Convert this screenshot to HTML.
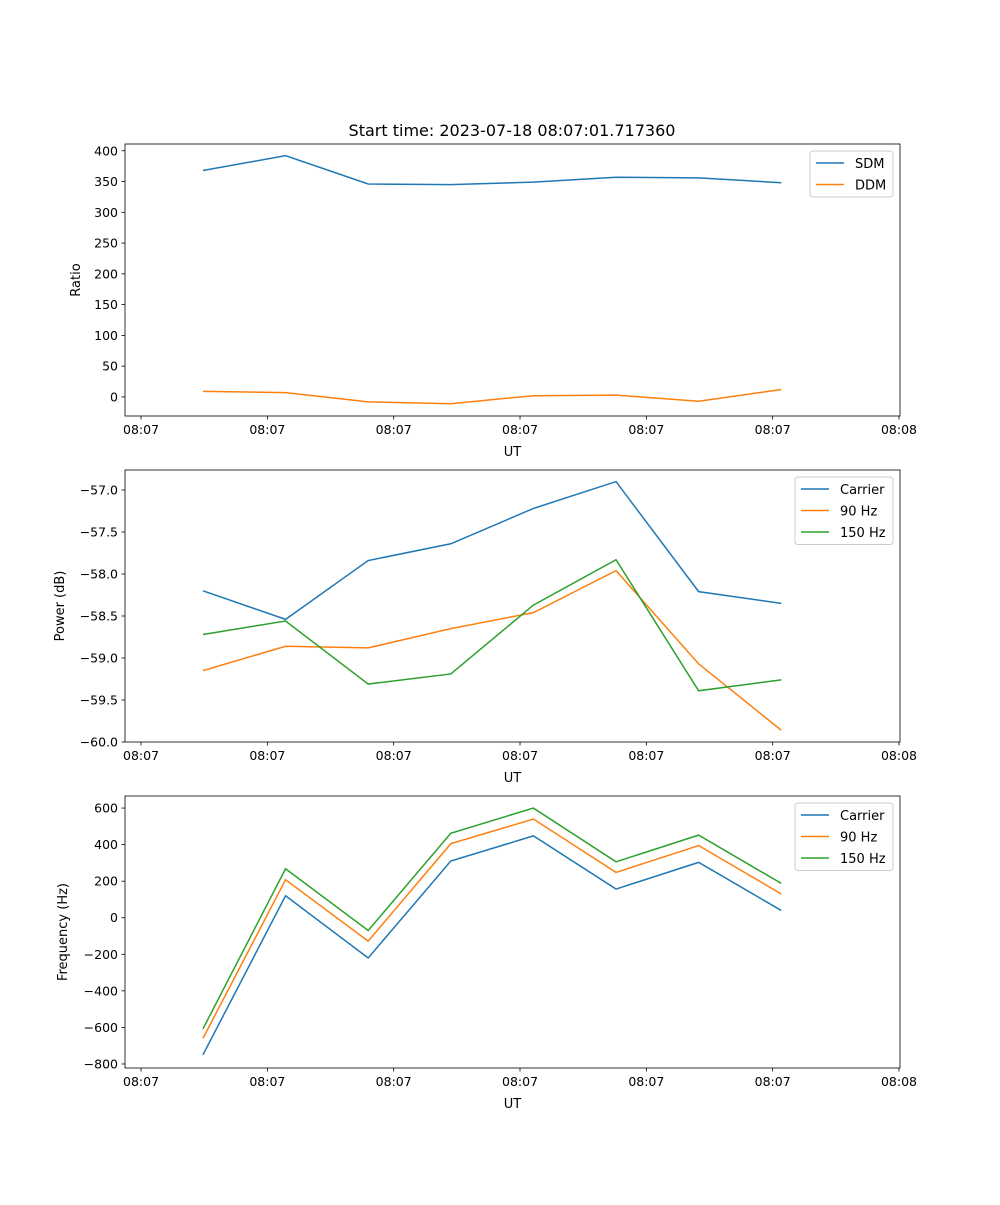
<!DOCTYPE html>
<html><head><meta charset="utf-8"><style>
body{margin:0;background:#fff}
svg{font-family:"DejaVu Sans","Liberation Sans",sans-serif}
</style></head><body>
<svg id="fig" width="1000" height="1200" xmlns="http://www.w3.org/2000/svg">
<rect width="1000" height="1200" fill="#fff"/>
<text x="512" y="136" font-size="16" text-anchor="middle">Start time: 2023-07-18 08:07:01.717360</text>
</svg>
<script>
const xTickLabels = ["08:07","08:07","08:07","08:07","08:07","08:07","08:08"];
const xTickVals = [0,1,2,3,4,5,6];
const xData = [0.49,1.144,1.798,2.452,3.106,3.76,4.414,5.068];
const sdm = [368,392,346,345,349,357,356,348];
const ddm = [9,7,-8,-11,2,3,-7,12];
const pCarrier = [-58.2,-58.54,-57.84,-57.64,-57.22,-56.9,-58.21,-58.35];
const p90 = [-59.15,-58.86,-58.88,-58.65,-58.46,-57.96,-59.07,-59.86];
const p150 = [-58.72,-58.56,-59.31,-59.19,-58.37,-57.83,-59.39,-59.26];
const fCarrier = [-750,120,-220,310,448,157,303,40];
const f90 = [-660,208,-128,405,540,248,395,130];
const f150 = [-608,268,-70,462,600,306,452,188];
const yTicks1 = [0,50,100,150,200,250,300,350,400];
const yTicks2 = [-60.0,-59.5,-59.0,-58.5,-58.0,-57.5,-57.0];
const yTicks3 = [-800,-600,-400,-200,0,200,400,600];

const NS="http://www.w3.org/2000/svg", svg=document.getElementById('fig');
function mk(tag,at,parent){const e=document.createElementNS(NS,tag);for(const k in at)e.setAttribute(k,at[k]);(parent||svg).appendChild(e);return e;}
const L=125,R=900,X0=-0.127,X1=6.008;
const sx=v=>L+(v-X0)/(X1-X0)*(R-L);
const C=['#1f77b4','#ff7f0e','#2ca02c'];
function panel(id,top,bot,y0,y1,yt,fmt,ylab,series,names,legX){
  const sy=v=>bot-(v-y0)/(y1-y0)*(bot-top);
  const g=mk('g',{});
  
  
  series.forEach((s,i)=>{
    const p=mk('polyline',{points:s.map((v,j)=>sx(xData[j])+','+sy(v)).join(' '),fill:'none',stroke:C[i],'stroke-width':1.5},g);
    
    
  });
  mk('rect',{x:L,y:top,width:R-L,height:bot-top,fill:'none',stroke:'#000','stroke-width':0.8},g);
  xTickVals.forEach((t,i)=>{const x=sx(t);mk('line',{x1:x,x2:x,y1:bot,y2:bot+3.5,stroke:'#000','stroke-width':0.8},g);
    const tx=mk('text',{x:x,y:bot+18,'font-size':12.5,'text-anchor':'middle'},g);tx.textContent=xTickLabels[i];
    
    });
  yt.forEach(t=>{const y=sy(t);mk('line',{x1:L-3.5,x2:L,y1:y,y2:y,stroke:'#000','stroke-width':0.8},g);
    const tx=mk('text',{x:L-7,y:y+4.5,'font-size':12.5,'text-anchor':'end'},g);tx.textContent=fmt(t);
    
    });
  const xl=mk('text',{x:(L+R)/2,y:bot+40,'font-size':13,'text-anchor':'middle'},g);xl.textContent='UT';
  
  
  const yx=ylab[1], yy=(top+bot)/2;
  const yl=mk('text',{x:yx,y:yy,'font-size':13,'text-anchor':'middle',transform:`rotate(-90 ${yx} ${yy})`},g);yl.textContent=ylab[0];
  
  
  const lg=mk('g',{},g);
  
  
  mk('rect',{x:legX,y:top+7,width:893-legX,height:names.length*21.5+3,rx:3,fill:'#fff',stroke:'#ccc'},lg);
  names.forEach((n,i)=>{const y=top+19+i*21.5;
    mk('line',{x1:legX+6,x2:legX+34,y1:y,y2:y,stroke:C[i],'stroke-width':1.5},lg);
    const t=mk('text',{x:legX+45,y:y+5,'font-size':13},lg);t.textContent=n;
    
    });
}
panel('ratio-panel',144,416,-31,411,yTicks1,v=>String(v),['Ratio',80],[sdm,ddm],['SDM','DDM'],810);
panel('power-panel',470,742,-60,-56.762,yTicks2,v=>(v<0?'\u2212':'')+Math.abs(v).toFixed(1),['Power (dB)',64],[pCarrier,p90,p150],['Carrier','90 Hz','150 Hz'],795);
panel('frequency-panel',796,1068,-822,666,yTicks3,v=>(v<0?'\u2212':'')+Math.abs(v),['Frequency (Hz)',67],[fCarrier,f90,f150],['Carrier','90 Hz','150 Hz'],795);
</script>
</body></html>
